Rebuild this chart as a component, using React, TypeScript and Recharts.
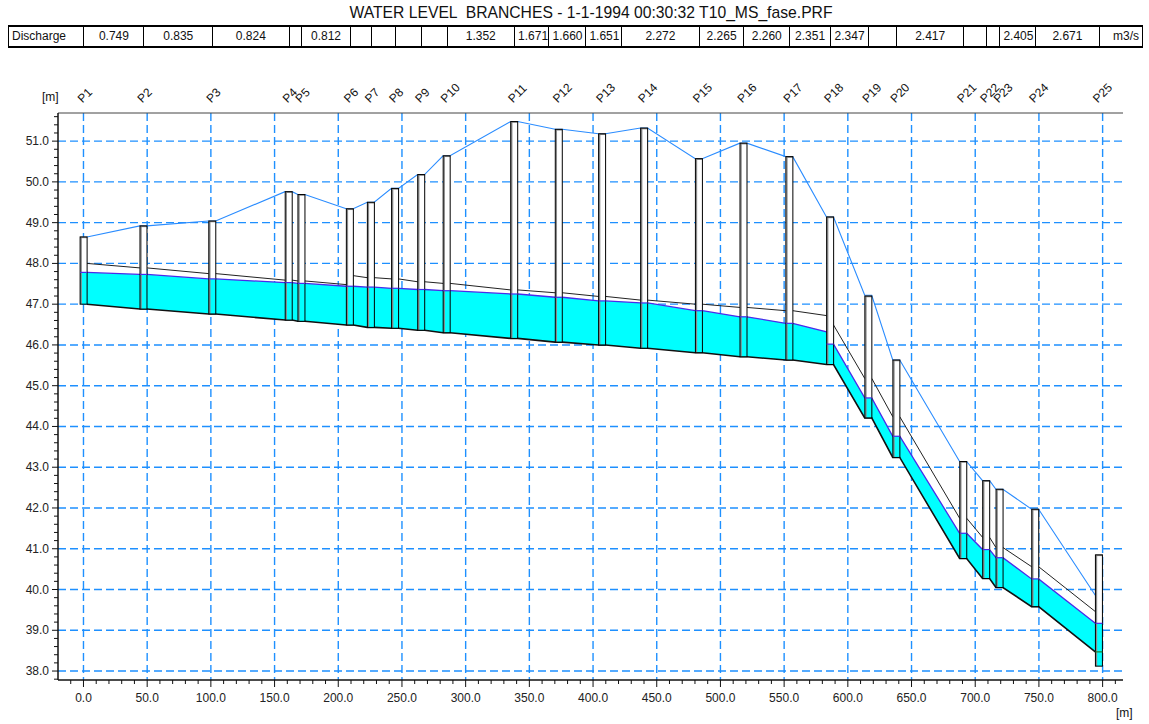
import React from 'react';
import { ComposedChart, Area, Line, Bar, XAxis, YAxis, CartesianGrid } from 'recharts';

// Profiles along the branch (chainage in m)
const profileNames = [
  'P1', 'P2', 'P3', 'P4', 'P5', 'P6', 'P7', 'P8', 'P9', 'P10', 'P11', 'P12', 'P13',
  'P14', 'P15', 'P16', 'P17', 'P18', 'P19', 'P20', 'P21', 'P22', 'P23', 'P24', 'P25',
];
const chainage = [
  0, 47, 101, 161, 171, 209, 225.5, 244.5, 265, 285, 338, 373, 407,
  440, 483, 518, 554, 586, 616, 638, 690.5, 708.5, 719, 747, 797,
];

// Levels [m] on the upstream (Up) and downstream (Down) face of each profile
const topLevelUp = [
  null, 48.92, 49.04, 49.76, 49.69, 49.34, 49.5, 49.84, 50.18, 50.64, 51.48, 51.29, 51.18,
  51.32, 50.57, 50.95, 50.62, 49.14, 47.22, 45.63, 43.14, 42.67, 42.46, 41.97, 39.86,
];
const topLevelDown = [
  48.65, 48.92, 49.04, 49.76, 49.69, 49.34, 49.5, 49.84, 50.18, 50.64, 51.48, 51.29, 51.18,
  51.32, 50.57, 50.95, 50.62, 49.14, 47.22, 45.63, 43.14, 42.67, 42.46, 41.97, null,
];
const bankLevelUp = [
  null, 47.89, 47.75, 47.59, 47.57, 47.48, 47.65, 47.62, 47.55, 47.51, 47.35, 47.28, 47.19,
  47.1, 47.0, 46.92, 46.84, 46.72, 45.18, 44.24, 41.75, 41.28, 41.03, 40.56, 39.46,
];
const bankLevelDown = [
  48.0, 47.89, 47.75, 47.59, 47.57, 47.7, 47.65, 47.62, 47.55, 47.51, 47.35, 47.28, 47.19,
  47.1, 47.0, 46.92, 46.84, 46.49, 45.18, 44.24, 41.75, 41.28, 41.03, 40.56, null,
];
const waterLevelUp = [
  null, 47.73, 47.62, 47.53, 47.51, 47.44, 47.42, 47.39, 47.36, 47.33, 47.25, 47.17, 47.08,
  47.03, 46.84, 46.69, 46.53, 46.32, 44.7, 43.76, 41.38, 40.98, 40.78, 40.26, 39.17,
];
const waterLevelDown = [
  47.78, 47.73, 47.62, 47.53, 47.51, 47.44, 47.42, 47.39, 47.36, 47.33, 47.25, 47.17, 47.08,
  47.03, 46.84, 46.69, 46.53, 46.02, 44.7, 43.76, 41.38, 40.98, 40.78, 40.26, null,
];
const bedLevel = [
  47.0, 46.88, 46.76, 46.61, 46.58, 46.49, 46.43, 46.41, 46.36, 46.3, 46.16, 46.07, 46.0,
  45.92, 45.81, 45.71, 45.63, 45.52, 44.21, 43.24, 40.76, 40.27, 40.05, 39.58, 38.47,
];
const profileTop = [
  48.65, 48.92, 49.04, 49.76, 49.69, 49.34, 49.5, 49.84, 50.18, 50.64, 51.48, 51.29, 51.18,
  51.32, 50.57, 50.95, 50.62, 49.14, 47.2, 45.63, 43.14, 42.67, 42.46, 41.97, 40.85,
];
const profileBottom = [
  47.0, 46.88, 46.76, 46.61, 46.58, 46.49, 46.43, 46.41, 46.36, 46.3, 46.16, 46.07, 46.0,
  45.92, 45.81, 45.71, 45.63, 45.52, 44.21, 43.24, 40.76, 40.27, 40.05, 39.58, 38.12,
];

// Discharge table (m3/s), cells between these chainages
const dischargeBounds = [
  0, 47, 101, 161, 171, 209, 225.5, 244.5, 265, 285, 338, 365, 394,
  422, 483, 518, 554, 586, 616, 638, 690.5, 708.5, 719, 747, 797,
];
const dischargeValues = [
  '0.749', '0.835', '0.824', '', '0.812', '', '', '', '', '1.352', '1.671', '1.660',
  '1.651', '2.272', '2.265', '2.260', '2.351', '2.347', '', '2.417', '', '', '2.405', '2.671',
];

const xMajorTicks = [0, 50, 100, 150, 200, 250, 300, 350, 400, 450, 500, 550, 600, 650, 700, 750, 800];
const yMajorTicks = [38, 39, 40, 41, 42, 43, 44, 45, 46, 47, 48, 49, 50, 51];
const xTicks = Array.from({ length: 83 }, (_, i) => -10 + i * 10);
const yTicks = Array.from({ length: 70 }, (_, i) => Math.round((37.8 + i * 0.2) * 10) / 10);

const X_MIN = -20;
const X_MAX = 816;
const Y_MIN = 37.78;
const Y_MAX = 51.69;
const PLOT_LEFT = 58;
const PLOT_RIGHT = 1123;
const HALF = 2.75; // half width of a profile box, m

const FONT = '"Liberation Sans", Arial, sans-serif';
const CYAN = '#00ffff';
const WATER = '#4b2bea';
const GRID = '#1e90ff';

// line points at the faces of each profile box
const edgeRows: any[] = [];
chainage.forEach((c, i) => {
  if (i > 0) {
    edgeRows.push({ x: c - HALF, top: topLevelUp[i], bank: bankLevelUp[i], water: waterLevelUp[i], bed: bedLevel[i] });
  }
  if (i < chainage.length - 1) {
    edgeRows.push({ x: c + HALF, top: topLevelDown[i], bank: bankLevelDown[i], water: waterLevelDown[i], bed: bedLevel[i] });
  }
});

const profileRows = chainage.map((c, i) => ({
  x: c,
  name: profileNames[i],
  top: profileTop[i],
  bottom: profileBottom[i],
  water: waterLevelDown[i] ?? waterLevelUp[i],
  bed: bedLevel[i],
}));

const toPx = (m: number) => PLOT_LEFT + ((m - X_MIN) / (X_MAX - X_MIN)) * (PLOT_RIGHT - PLOT_LEFT);

const XTick = (props: any) => {
  const { x, y, payload } = props;
  const v = payload.value;
  const major = Math.abs(v / 50 - Math.round(v / 50)) < 1e-6;
  return (
    <g>
      <line x1={x} x2={x} y1={y} y2={y + (major ? 7 : 4)} stroke="#111" />
      {major && (
        <text x={x} y={y + 18} textAnchor="middle" dominantBaseline="central" fontSize={12} fill="#222" fontFamily={FONT}>
          {v.toFixed(1)}
        </text>
      )}
    </g>
  );
};

const YTick = (props: any) => {
  const { x, y, payload } = props;
  const v = payload.value;
  const major = Math.abs(v - Math.round(v)) < 1e-6;
  return (
    <g>
      <line x1={x - (major ? 6 : 4)} x2={x} y1={y} y2={y} stroke="#111" />
      {major && (
        <text x={x - 9} y={y} textAnchor="end" dominantBaseline="central" fontSize={12} fill="#222" fontFamily={FONT}>
          {v.toFixed(1)}
        </text>
      )}
    </g>
  );
};

const ProfileLabel = (props: any) => {
  const { x, y, index } = props;
  const ax = x - 1;
  const ay = y - 9.5;
  return (
    <g transform={`translate(${ax}, ${ay}) rotate(-45)`}>
      <text x={0} y={0} fontSize={12} fill="#111" fontFamily={FONT}>
        {profileNames[index]}
      </text>
    </g>
  );
};

const ProfileBox = (props: any) => {
  const { x, y, width, height, payload } = props;
  const cx = x + width / 2;
  const left = cx - 3.5;
  const yTop = Math.min(y, y + height);
  const yBot = Math.max(y, y + height);
  const span = payload.top - payload.bottom;
  const yWater = yTop + ((yBot - yTop) * (payload.top - payload.water)) / span;
  const yBed = yTop + ((yBot - yTop) * (payload.top - payload.bed)) / span;
  return (
    <g>
      <rect x={left} y={yTop} width={7} height={yWater - yTop} fill="#fff" />
      <rect x={left} y={yWater} width={7} height={yBot - yWater} fill={CYAN} />
      <line x1={left + 1} x2={left + 1} y1={yTop} y2={yBot} stroke="#8a8a8a" strokeWidth={1.5} />
      <line x1={left} x2={left + 7} y1={yTop + 0.5} y2={yTop + 0.5} stroke="#8a8a8a" strokeWidth={1.5} />
      <rect x={left} y={yTop} width={7} height={yBot - yTop} fill="none" stroke="#000" strokeWidth={1} />
      <line x1={left} x2={left + 7} y1={yWater} y2={yWater} stroke={WATER} strokeWidth={1.2} />
      {payload.bed > payload.bottom + 0.01 && (
        <line x1={left} x2={left + 7} y1={yBed} y2={yBed} stroke="#1c7a2a" strokeWidth={1.2} />
      )}
    </g>
  );
};

const TABLE_LEFT = 8;
const TABLE_RIGHT = 1143;

const DischargeTable = () => {
  const cells: { l: number; r: number; text: string; align: 'left' | 'center' | 'right' }[] = [];
  cells.push({ l: TABLE_LEFT, r: toPx(dischargeBounds[0]), text: 'Discharge', align: 'left' });
  dischargeValues.forEach((v, i) => {
    cells.push({ l: toPx(dischargeBounds[i]), r: toPx(dischargeBounds[i + 1]), text: v, align: 'center' });
  });
  cells.push({ l: toPx(dischargeBounds[dischargeBounds.length - 1]), r: TABLE_RIGHT, text: 'm3/s', align: 'right' });
  return (
    <div
      style={{
        position: 'absolute',
        left: TABLE_LEFT,
        top: 25,
        width: TABLE_RIGHT - TABLE_LEFT,
        height: 19,
        borderTop: '2px solid #000',
        borderBottom: '2px solid #000',
        fontFamily: FONT,
        fontSize: 12,
        color: '#111',
      }}
    >
      {cells.map((c, i) => (
        <div
          key={i}
          style={{
            position: 'absolute',
            left: c.l - TABLE_LEFT,
            width: c.r - c.l,
            top: 0,
            height: 19,
            lineHeight: '19px',
            borderLeft: '1px solid #000',
            borderRight: i === cells.length - 1 ? '1px solid #000' : 'none',
            textAlign: c.align,
            padding: '0 3px',
            boxSizing: 'border-box',
            whiteSpace: 'nowrap',
            overflow: 'hidden',
          }}
        >
          {c.text}
        </div>
      ))}
    </div>
  );
};

export default function App() {
  return (
    <div style={{ position: 'absolute', left: 0, top: 0, width: 1149, height: 724, background: '#fff', overflow: 'hidden' }}>
      <div
        style={{
          position: 'absolute',
          left: 291,
          top: 4,
          width: 600,
          textAlign: 'center',
          fontFamily: FONT,
          fontSize: 15.7,
          color: '#111',
          whiteSpace: 'pre',
        }}
      >
        {'WATER LEVEL  BRANCHES - 1-1-1994 00:30:32 T10_MS_fase.PRF'}
      </div>
      <DischargeTable />
      <div style={{ position: 'absolute', left: 42, top: 90, fontFamily: FONT, fontSize: 12, color: '#111' }}>[m]</div>
      <div style={{ position: 'absolute', left: 1116, top: 706, fontFamily: FONT, fontSize: 12, color: '#111' }}>[m]</div>
      <div style={{ position: 'absolute', left: 0, top: 0 }}>
        <ComposedChart width={1149} height={724} data={profileRows} margin={{ top: 83, right: 26, bottom: 14, left: 8 }}>
          <CartesianGrid
            xAxisId="main"
            yAxisId="y"
            verticalValues={xMajorTicks}
            horizontalValues={yMajorTicks}
            stroke={GRID}
            strokeWidth={1.4}
            strokeDasharray="8 4"
            fill="none"
          />
          <XAxis
            xAxisId="main"
            type="number"
            dataKey="x"
            domain={[X_MIN, X_MAX]}
            allowDataOverflow
            ticks={xTicks}
            interval={0}
            tickSize={0}
            tickMargin={0}
            tickLine={false}
            tick={(p: any) => <XTick {...p} />}
            height={30}
            axisLine={{ stroke: '#111', strokeWidth: 1.5 }}
          />
          <XAxis
            xAxisId="prof"
            orientation="top"
            type="number"
            dataKey="x"
            domain={[X_MIN, X_MAX]}
            allowDataOverflow
            ticks={chainage}
            interval={0}
            tickSize={0}
            tickMargin={0}
            tickLine={false}
            tick={(p: any) => <ProfileLabel {...p} />}
            height={30}
            axisLine={{ stroke: '#444', strokeWidth: 1 }}
          />
          <YAxis
            yAxisId="y"
            type="number"
            domain={[Y_MIN, Y_MAX]}
            allowDataOverflow
            ticks={yTicks}
            interval={0}
            tickSize={0}
            tickMargin={0}
            tickLine={false}
            tick={(p: any) => <YTick {...p} />}
            width={50}
            axisLine={{ stroke: '#111', strokeWidth: 1.5 }}
          />
          <YAxis yAxisId="r" orientation="right" width={0} tick={false} domain={[0, 1]} axisLine={{ stroke: '#333', strokeWidth: 1.5 }} />
          <Area
            xAxisId="main"
            yAxisId="y"
            data={edgeRows}
            dataKey={(d: any) => [d.bed, d.water]}
            type="linear"
            fill={CYAN}
            fillOpacity={1}
            stroke="none"
            isAnimationActive={false}
          />
          <Line xAxisId="main" yAxisId="y" data={edgeRows} dataKey="bank" type="linear" stroke="#222" strokeWidth={1} dot={false} activeDot={false} isAnimationActive={false} />
          <Line xAxisId="main" yAxisId="y" data={edgeRows} dataKey="top" type="linear" stroke="#2a8cff" strokeWidth={1.1} dot={false} activeDot={false} isAnimationActive={false} />
          <Line xAxisId="main" yAxisId="y" data={edgeRows} dataKey="water" type="linear" stroke={WATER} strokeWidth={1.3} dot={false} activeDot={false} isAnimationActive={false} />
          <Line xAxisId="main" yAxisId="y" data={edgeRows} dataKey="bed" type="linear" stroke="#111" strokeWidth={1.6} dot={false} activeDot={false} isAnimationActive={false} />
          <Bar
            xAxisId="prof"
            yAxisId="y"
            dataKey={(d: any) => [d.bottom, d.top]}
            barSize={7}
            shape={(p: any) => <ProfileBox {...p} />}
            isAnimationActive={false}
            zIndex={500}
          />
        </ComposedChart>
      </div>
    </div>
  );
}
